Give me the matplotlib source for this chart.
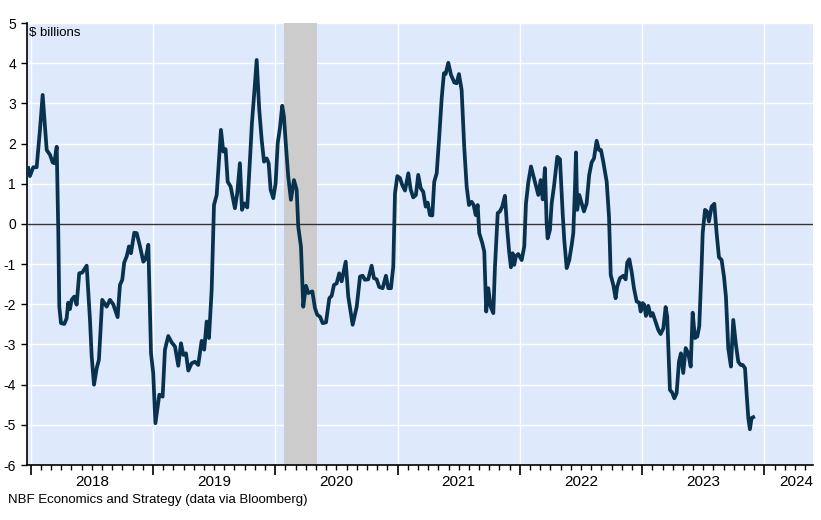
import matplotlib
matplotlib.use("Agg")
import matplotlib.pyplot as plt
from matplotlib.ticker import FixedLocator, NullFormatter
from matplotlib import rcParams

# ==========================================
# 数据 (十进制年份, 十亿美元)
# ==========================================
t_2018 = [2017.980, 2017.994, 2018.021, 2018.049, 2018.076, 2018.098, 2018.131, 2018.158,
          2018.180, 2018.193, 2018.213, 2018.226, 2018.234, 2018.248, 2018.275, 2018.294,
          2018.307, 2018.321, 2018.335, 2018.356, 2018.376, 2018.397, 2018.422, 2018.458,
          2018.485, 2018.499, 2018.518, 2018.540, 2018.558, 2018.585, 2018.621, 2018.648,
          2018.675, 2018.711, 2018.730, 2018.749, 2018.765, 2018.785, 2018.804, 2018.820,
          2018.847, 2018.867, 2018.894, 2018.921, 2018.940, 2018.962, 2018.984]
v_2018 = [1.39, 1.19, 1.41, 1.41, 2.34, 3.21, 1.84, 1.72,
          1.53, 1.51, 1.92, -0.23, -2.06, -2.47, -2.49, -2.35,
          -1.96, -2.12, -1.89, -1.81, -2.01, -1.23, -1.21, -1.04,
          -2.39, -3.30, -4.00, -3.59, -3.38, -1.89, -2.06, -1.89,
          -2.00, -2.32, -1.52, -1.39, -0.96, -0.81, -0.56, -0.73,
          -0.22, -0.23, -0.56, -0.94, -0.87, -0.52, -3.22]

t_2019 = [2019.002, 2019.020, 2019.052, 2019.079, 2019.098, 2019.125, 2019.153, 2019.180,
          2019.207, 2019.229, 2019.248, 2019.270, 2019.289, 2019.316, 2019.343, 2019.370,
          2019.398, 2019.419, 2019.439, 2019.458, 2019.480, 2019.499, 2019.521, 2019.540,
          2019.556, 2019.575, 2019.594, 2019.611, 2019.635, 2019.670, 2019.689, 2019.711,
          2019.728, 2019.747, 2019.771, 2019.793, 2019.809, 2019.828, 2019.848, 2019.869,
          2019.889, 2019.908, 2019.930, 2019.946, 2019.962, 2019.984]
v_2019 = [-3.71, -4.96, -4.25, -4.30, -3.13, -2.79, -2.95, -3.05,
          -3.53, -2.97, -3.26, -3.22, -3.65, -3.47, -3.43, -3.51,
          -2.91, -3.13, -2.43, -2.84, -1.64, 0.47, 0.72, 1.59,
          2.34, 1.80, 1.86, 1.05, 0.93, 0.39, 0.76, 1.51,
          0.35, 0.51, 0.41, 1.59, 2.50, 3.25, 4.08, 2.84,
          2.09, 1.55, 1.63, 1.51, 0.85, 0.64]

t_2020 = [2020.003, 2020.020, 2020.038, 2020.057, 2020.071, 2020.088, 2020.106, 2020.128,
          2020.153, 2020.175, 2020.188, 2020.210, 2020.229, 2020.251, 2020.270, 2020.303,
          2020.325, 2020.343, 2020.366, 2020.388, 2020.415, 2020.442, 2020.461, 2020.480,
          2020.502, 2020.523, 2020.543, 2020.576, 2020.597, 2020.633, 2020.666, 2020.693,
          2020.715, 2020.733, 2020.760, 2020.788, 2020.807, 2020.829, 2020.850, 2020.878,
          2020.905, 2020.924, 2020.946, 2020.965, 2020.979, 2020.998]
v_2020 = [1.01, 2.01, 2.38, 2.94, 2.67, 1.92, 1.18, 0.60,
          1.09, 0.85, -0.07, -0.56, -2.06, -1.54, -1.72, -1.68,
          -2.10, -2.26, -2.31, -2.47, -2.45, -1.85, -1.79, -1.52,
          -1.48, -1.23, -1.43, -0.94, -1.81, -2.51, -2.06, -1.31,
          -1.29, -1.39, -1.38, -1.04, -1.35, -1.38, -1.57, -1.60,
          -1.29, -1.60, -1.60, -1.06, 0.76, 1.19]

t_2021 = [2021.020, 2021.038, 2021.061, 2021.088, 2021.107, 2021.128, 2021.150, 2021.169,
          2021.189, 2021.210, 2021.230, 2021.246, 2021.265, 2021.284, 2021.300, 2021.320,
          2021.339, 2021.361, 2021.379, 2021.393, 2021.415, 2021.437, 2021.464, 2021.483,
          2021.502, 2021.524, 2021.545, 2021.565, 2021.584, 2021.606, 2021.622, 2021.639,
          2021.655, 2021.668, 2021.693, 2021.709, 2021.725, 2021.742, 2021.761, 2021.783,
          2021.796, 2021.819, 2021.837, 2021.856, 2021.878, 2021.897, 2021.913, 2021.927,
          2021.941, 2021.954, 2021.968, 2021.987]
v_2021 = [1.14, 0.97, 0.83, 1.26, 0.86, 0.66, 0.72, 1.22,
          0.89, 0.80, 0.43, 0.53, 0.22, 0.21, 1.05, 1.26,
          2.09, 3.13, 3.75, 3.73, 4.01, 3.71, 3.52, 3.50,
          3.73, 3.33, 1.92, 0.93, 0.47, 0.55, 0.47, 0.22,
          0.47, -0.23, -0.48, -0.69, -2.18, -1.60, -2.06, -2.22,
          -1.10, 0.27, 0.31, 0.43, 0.70, -0.15, -0.71, -1.08,
          -0.73, -1.02, -0.80, -0.75]

t_2022 = [2022.015, 2022.036, 2022.050, 2022.069, 2022.091, 2022.105, 2022.123, 2022.151,
          2022.170, 2022.187, 2022.205, 2022.219, 2022.227, 2022.246, 2022.260, 2022.279,
          2022.306, 2022.328, 2022.350, 2022.363, 2022.383, 2022.404, 2022.424, 2022.437,
          2022.451, 2022.459, 2022.469, 2022.486, 2022.505, 2022.524, 2022.546, 2022.567,
          2022.587, 2022.606, 2022.628, 2022.647, 2022.663, 2022.682, 2022.710, 2022.729,
          2022.743, 2022.764, 2022.783, 2022.796, 2022.818, 2022.846, 2022.865, 2022.878,
          2022.895, 2022.914, 2022.933, 2022.955, 2022.976, 2022.988]
v_2022 = [-0.90, -0.56, 0.51, 1.03, 1.43, 1.26, 1.05, 0.72,
          1.09, 0.61, 1.39, 0.02, -0.36, -0.15, 0.51, 0.93,
          1.67, 1.61, 0.27, -0.40, -1.10, -0.90, -0.52, -0.23,
          0.93, 1.78, 0.35, 0.72, 0.51, 0.31, 0.51, 1.22,
          1.53, 1.63, 2.07, 1.84, 1.84, 1.55, 1.05, 0.18,
          -1.27, -1.52, -1.85, -1.56, -1.35, -1.29, -1.38, -0.96,
          -0.88, -1.19, -1.60, -1.93, -1.96, -2.18]

t_2023 = [2023.004, 2023.017, 2023.031, 2023.050, 2023.070, 2023.086, 2023.105, 2023.132,
          2023.151, 2023.173, 2023.192, 2023.205, 2023.227, 2023.246, 2023.263, 2023.282,
          2023.301, 2023.317, 2023.336, 2023.356, 2023.377, 2023.397, 2023.413, 2023.432,
          2023.451, 2023.467, 2023.487, 2023.495, 2023.514, 2023.530, 2023.546, 2023.568,
          2023.590, 2023.609, 2023.628, 2023.650, 2023.669, 2023.685, 2023.704, 2023.726,
          2023.745, 2023.767, 2023.786, 2023.806, 2023.822, 2023.841, 2023.854, 2023.868,
          2023.881, 2023.895, 2023.908]
v_2023 = [-1.97, -2.01, -2.29, -2.04, -2.29, -2.22, -2.39, -2.64,
          -2.74, -2.60, -2.07, -2.31, -4.13, -4.20, -4.34, -4.21,
          -3.43, -3.22, -3.71, -3.09, -3.22, -3.55, -2.21, -2.84,
          -2.80, -2.55, -0.98, -0.23, 0.35, 0.31, 0.06, 0.43,
          0.50, -0.23, -0.83, -0.90, -1.31, -1.81, -3.09, -3.55,
          -2.39, -3.01, -3.43, -3.51, -3.51, -3.59, -4.21, -4.83,
          -5.11, -4.83, -4.81]

t = t_2018 + t_2019 + t_2020 + t_2021 + t_2022 + t_2023
v = v_2018 + v_2019 + v_2020 + v_2021 + v_2022 + v_2023

years = [2018, 2019, 2020, 2021, 2022, 2023, 2024]
recession = (2020.07, 2020.34)   # 2020年2月-4月

# ==========================================
# 样式
# ==========================================
rcParams['font.family'] = ['Liberation Sans', 'DejaVu Sans']
bg_color = '#dee9fb'
line_color = '#09324f'

fig = plt.figure(figsize=(8.21, 5.20), dpi=100)
ax = fig.add_axes([27 / 821, 55 / 520, 786 / 821, 442 / 520])
ax.set_facecolor(bg_color)

x_min, x_max = 2017.970, 2024.397
ax.set_xlim(x_min, x_max)
ax.set_ylim(-6, 5)

# 网格
for yv in range(-6, 6):
    ax.axhline(yv, color='white', linewidth=1.0, zorder=1)
for yr in years:
    ax.axvline(yr, color='white', linewidth=1.0, zorder=1)

# 衰退阴影
ax.axvspan(recession[0], recession[1], color='#cccccc', linewidth=0, zorder=2)

# 零线
ax.axhline(0, color='#333333', linewidth=1.0, zorder=3)

# 数据线
ax.plot(t, v, color=line_color, linewidth=2.7, solid_joinstyle='round', zorder=4)

# 坐标轴
for side in ['top', 'right']:
    ax.spines[side].set_visible(False)
ax.spines['left'].set_linewidth(1.2)
ax.spines['bottom'].set_linewidth(1.2)

ax.set_yticks(range(-6, 6))
ax.set_yticklabels([str(i) for i in range(-6, 6)], fontsize=10)
ax.tick_params(axis='y', direction='out', length=4, width=1, pad=4)

months = [y + m / 12 for y in range(2018, 2025) for m in range(12) if x_min <= y + m / 12 <= x_max]
ax.xaxis.set_major_locator(FixedLocator(years))
ax.xaxis.set_minor_locator(FixedLocator(months))
ax.xaxis.set_major_formatter(NullFormatter())
ax.tick_params(axis='x', which='major', direction='out', length=7, width=1.2)
ax.tick_params(axis='x', which='minor', direction='out', length=3.5, width=1)

for yr in years:
    if yr + 0.5 < x_max:
        ax.annotate(str(yr), xy=(yr + 0.5, 0), xycoords=('data', 'axes fraction'),
                    xytext=(0, -17), textcoords='offset pixels',
                    ha='center', va='center', fontsize=11, annotation_clip=False)
    else:
        ax.annotate(str(yr), xy=(x_max, 0), xycoords=('data', 'axes fraction'),
                    xytext=(0, -17), textcoords='offset pixels',
                    ha='right', va='center', fontsize=11, annotation_clip=False)

ax.text(29 / 821, 1 - 33 / 520, '$ billions', transform=fig.transFigure,
        ha='left', va='center', fontsize=9.5)
fig.text(8 / 821, 1 - 500 / 520, 'NBF Economics and Strategy (data via Bloomberg)',
         ha='left', va='center', fontsize=9.5)

fig.savefig('out.png', dpi=100)
